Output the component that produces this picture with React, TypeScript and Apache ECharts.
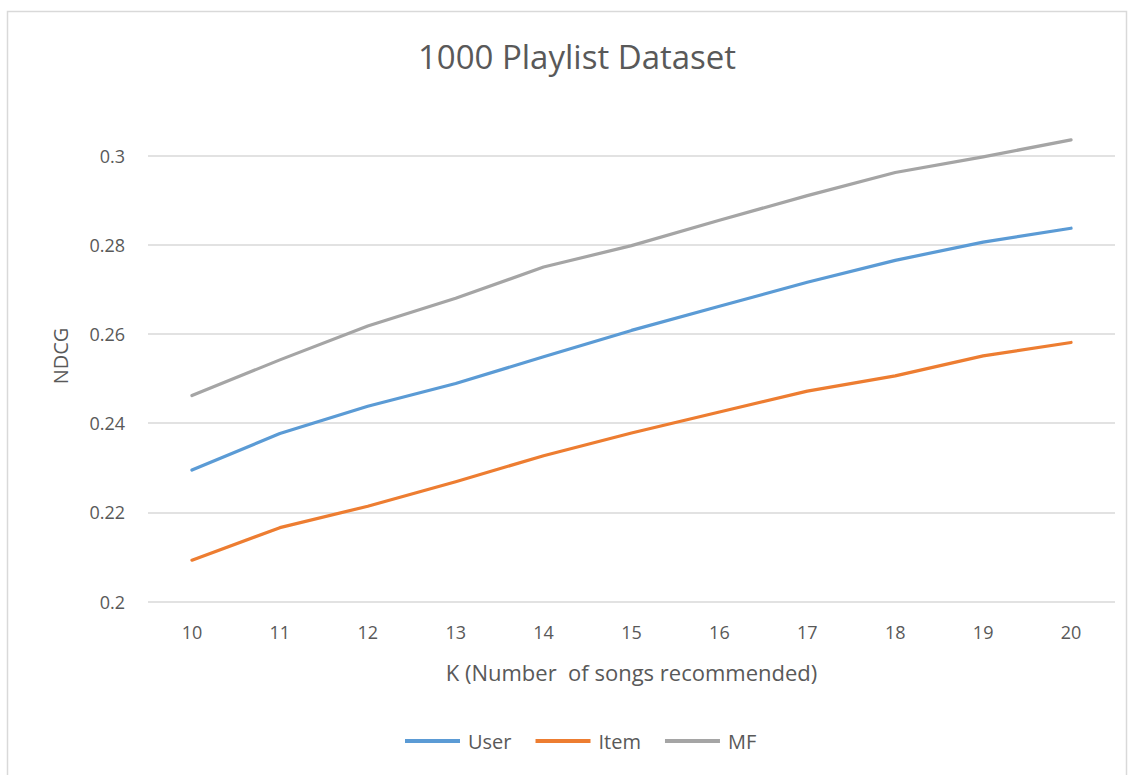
import React, { useEffect, useRef } from "react";
import * as echarts from "echarts";

// Recommendation quality (NDCG) as the number of recommended songs K grows
const kValues = ["10", "11", "12", "13", "14", "15", "16", "17", "18", "19", "20"];
const userNdcg = [0.2295, 0.2377, 0.2438, 0.2489, 0.2549, 0.2608, 0.2662, 0.2716, 0.2765, 0.2806, 0.2837];
const itemNdcg = [0.2093, 0.2166, 0.2214, 0.2269, 0.2327, 0.2378, 0.2425, 0.2472, 0.2506, 0.2551, 0.2581];
const mfNdcg = [0.2462, 0.2542, 0.2618, 0.2680, 0.2750, 0.2798, 0.2855, 0.2910, 0.2962, 0.2997, 0.3035];

const FONT = "'Open Sans', 'Liberation Sans', sans-serif";
const TEXT = "#595959";

export default function App() {
  const ref = useRef<HTMLDivElement>(null);

  useEffect(() => {
    if (!ref.current) return;
    const chart = echarts.init(ref.current, undefined, { renderer: "svg" });
    const line = (name: string, data: number[], color: string) => ({
      name,
      type: "line",
      data,
      symbol: "none",
      smooth: false,
      clip: false,
      lineStyle: { color, width: 3.2, cap: "round", join: "round" },
      itemStyle: { color },
    });
    chart.setOption({
      animation: false,
      backgroundColor: "#ffffff",
      textStyle: { fontFamily: FONT },
      title: {
        text: "1000 Playlist Dataset",
        left: 572,
        top: 35,
        textAlign: "center",
        textStyle: { fontFamily: FONT, fontSize: 33, fontWeight: "normal", color: TEXT },
      },
      grid: { left: 148, right: 15, top: 155.5, bottom: 173.3, containLabel: false },
      xAxis: {
        type: "category",
        data: kValues,
        boundaryGap: true,
        axisLine: { show: false },
        axisTick: { show: false },
        axisLabel: { color: TEXT, fontSize: 18, margin: 21, fontFamily: FONT },
        name: "K (Number  of songs recommended)",
        nameLocation: "middle",
        nameGap: 59,
        nameTextStyle: { color: TEXT, fontSize: 22, fontFamily: FONT },
      },
      yAxis: {
        type: "value",
        min: 0.2,
        max: 0.3,
        interval: 0.02,
        axisLine: { show: false },
        axisTick: { show: false },
        splitLine: { lineStyle: { color: "#d9d9d9", width: 1.5 } },
        axisLabel: {
          color: TEXT,
          fontSize: 18,
          margin: 23,
          fontFamily: FONT,
          formatter: (v: number) => String(+v.toFixed(2)),
        },
      },
      legend: {
        bottom: 19,
        left: 400,
        icon: "rect",
        itemWidth: 55,
        itemHeight: 4,
        itemGap: 24,
        textStyle: { color: TEXT, fontSize: 20, fontFamily: FONT, padding: [0, 0, 0, 3] },
        data: ["User", "Item", "MF"],
      },
      graphic: [
        {
          type: "rect",
          shape: { x: 7.5, y: 11.5, width: 1119, height: 775 },
          style: { fill: "none", stroke: "#d9d9d9", lineWidth: 1.5 },
          silent: true,
        },
        {
          type: "text",
          x: 60,
          y: 356,
          rotation: Math.PI / 2,
          style: {
            text: "NDCG",
            fill: TEXT,
            fontSize: 20,
            fontFamily: FONT,
            align: "center",
            verticalAlign: "middle",
          },
        },
      ],
      series: [
        line("User", userNdcg, "#5B9BD5"),
        line("Item", itemNdcg, "#ED7D31"),
        line("MF", mfNdcg, "#A5A5A5"),
      ],
    });
    return () => chart.dispose();
  }, []);

  return (
    <div
      ref={ref}
      style={{ position: "fixed", left: 0, top: 0, width: 1130, height: 775, background: "#fff" }}
    />
  );
}
